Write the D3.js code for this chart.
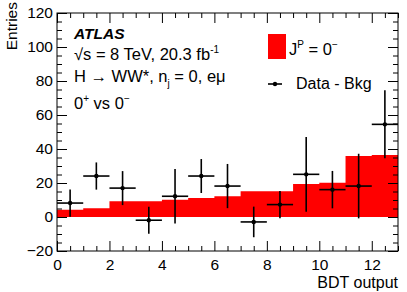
<!DOCTYPE html>
<html>
<head>
<meta charset="utf-8">
<script src="https://cdn.jsdelivr.net/npm/d3@7"></script>
<style>
  body { margin: 0; background: #fff; }
  svg text { font-family: "Liberation Sans", Arial, Helvetica, sans-serif; fill: #000; }
</style>
</head>
<body>
<svg id="chart"></svg>
<script>
// chart size, matches the window
const width = 407;
const height = 292;
const margin = { top: 13, right: 9, bottom: 41, left: 57 };

// BDT output bins (lower edges), each one unit wide
const bin_edges = [0, 1, 2, 3, 4, 5, 6, 7, 8, 9, 10, 11, 12, 13];
// J^P = 0^- expectation per bin
const signal = [4.3, 5.1, 9.2, 9.2, 10.2, 11.2, 12.2, 15.1, 15.1, 19.4, 20.2, 35.9, 36.5];
// data minus background, and its error
const data_minus_bkg = [8.2, 24.1, 17, -1.9, 12.2, 24.1, 18.2, -2.9, 7.3, 25.1, 16.1, 18.2, 54.5];
const data_err = [8, 8, 10, 8, 16, 10, 13, 9, 8, 22, 11, 19, 20];

const x_ticks = [0, 2, 4, 6, 8, 10, 12];
const y_ticks = [-20, 0, 20, 40, 60, 80, 100, 120];

const svg = d3.select('#chart')
  .attr('width', width)
  .attr('height', height);

const x = d3.scaleLinear().domain([0, 13]).range([margin.left, width - margin.right]);
const y = d3.scaleLinear().domain([-20, 120]).range([height - margin.bottom, margin.top]);

// red histogram, filled from zero
const hist = [];
signal.forEach((v, i) => {
  hist.push({ x: bin_edges[i], v });
  hist.push({ x: bin_edges[i + 1], v });
});
svg.append('path')
  .datum(hist)
  .attr('fill', '#ff0000')
  .attr('d', d3.area().x((d) => x(d.x)).y0(y(0)).y1((d) => y(d.v)));

// data points with error bars
const pts = data_minus_bkg.map((v, i) => ({ lo: bin_edges[i], hi: bin_edges[i + 1], v, e: data_err[i] }));
const g_pts = svg.append('g').attr('stroke', '#000').attr('stroke-width', 1.6);
g_pts.selectAll('.hbar')
  .data(pts)
  .enter().append('line')
    .attr('x1', (d) => x(d.lo))
    .attr('x2', (d) => x(d.hi))
    .attr('y1', (d) => y(d.v))
    .attr('y2', (d) => y(d.v));
g_pts.selectAll('.vbar')
  .data(pts)
  .enter().append('line')
    .attr('x1', (d) => x((d.lo + d.hi) / 2))
    .attr('x2', (d) => x((d.lo + d.hi) / 2))
    .attr('y1', (d) => y(d.v - d.e))
    .attr('y2', (d) => y(d.v + d.e));
svg.selectAll('.dot')
  .data(pts)
  .enter().append('circle')
    .attr('cx', (d) => x((d.lo + d.hi) / 2))
    .attr('cy', (d) => y(d.v))
    .attr('r', 2.2)
    .attr('fill', '#000');

// axes, ROOT style: ticks inside on all four sides
const fmt = (d) => (d < 0 ? '\u2212' + Math.abs(d) : String(d));
const minor_x = d3.range(0, 13.01, 0.5).filter((d) => d % 2 !== 0);
const minor_y = d3.range(-20, 120.01, 5).filter((d) => d % 20 !== 0);

svg.append('g')
  .attr('transform', `translate(0,${y(-20)})`)
  .call(d3.axisBottom(x).tickValues(x_ticks).tickSize(-10).tickPadding(8).tickFormat(fmt))
  .call((g) => g.select('.domain').remove());
svg.append('g')
  .attr('transform', `translate(0,${y(-20)})`)
  .call(d3.axisBottom(x).tickValues(minor_x).tickSize(-5).tickFormat(''))
  .call((g) => g.select('.domain').remove());
svg.append('g')
  .attr('transform', `translate(0,${y(120)})`)
  .call(d3.axisTop(x).tickValues(x_ticks).tickSize(-10).tickFormat(''))
  .call((g) => g.select('.domain').remove());
svg.append('g')
  .attr('transform', `translate(0,${y(120)})`)
  .call(d3.axisTop(x).tickValues(minor_x).tickSize(-5).tickFormat(''))
  .call((g) => g.select('.domain').remove());

svg.append('g')
  .attr('transform', `translate(${x(0)},0)`)
  .call(d3.axisLeft(y).tickValues(y_ticks).tickSize(-10).tickPadding(4).tickFormat(fmt))
  .call((g) => g.select('.domain').remove());
svg.append('g')
  .attr('transform', `translate(${x(0)},0)`)
  .call(d3.axisLeft(y).tickValues(minor_y).tickSize(-5).tickFormat(''))
  .call((g) => g.select('.domain').remove());
svg.append('g')
  .attr('transform', `translate(${x(13)},0)`)
  .call(d3.axisRight(y).tickValues(y_ticks).tickSize(-10).tickFormat(''))
  .call((g) => g.select('.domain').remove());
svg.append('g')
  .attr('transform', `translate(${x(13)},0)`)
  .call(d3.axisRight(y).tickValues(minor_y).tickSize(-5).tickFormat(''))
  .call((g) => g.select('.domain').remove());

svg.selectAll('.tick text').attr('font-size', 15.5).attr('fill', '#000');
svg.selectAll('.tick line').attr('stroke', '#000');

// frame
svg.append('rect')
  .attr('x', x(0))
  .attr('y', y(120))
  .attr('width', x(13) - x(0))
  .attr('height', y(-20) - y(120))
  .attr('fill', 'none')
  .attr('stroke', '#000')
  .attr('stroke-width', 1);

// axis titles
svg.append('text')
  .attr('transform', `translate(17,${y(120) - 11}) rotate(-90)`)
  .attr('text-anchor', 'end')
  .attr('font-size', 15.5)
  .text('Entries');
svg.append('text')
  .attr('x', x(13))
  .attr('y', 288)
  .attr('text-anchor', 'end')
  .attr('font-size', 16)
  .text('BDT output');

// labels
const lab_x = 74;
svg.append('text')
  .attr('x', lab_x).attr('y', 39)
  .attr('font-size', 15.5)
  .attr('font-weight', 'bold')
  .attr('font-style', 'italic')
  .text('ATLAS');

const l2 = svg.append('text').attr('x', lab_x).attr('y', 60).attr('font-size', 16.5);
l2.append('tspan').text('\u221As = 8 TeV, 20.3 fb');
l2.append('tspan').attr('font-size', 10).attr('dy', -7).text('-1');

const l3 = svg.append('text').attr('x', lab_x).attr('y', 82).attr('font-size', 16.5);
l3.append('tspan').text('H \u2192 WW*, n');
l3.append('tspan').attr('font-size', 10).attr('dy', 5).text('j');
l3.append('tspan').attr('dy', -5).text(' = 0, e\u03BC');

const l4 = svg.append('text').attr('x', lab_x).attr('y', 109).attr('font-size', 16.5);
l4.append('tspan').text('0');
l4.append('tspan').attr('font-size', 10).attr('dy', -7).text('+');
l4.append('tspan').attr('dy', 7).text(' vs 0');
l4.append('tspan').attr('font-size', 10).attr('dy', -7).text('\u2212');

// legend
svg.append('rect')
  .attr('x', 268).attr('y', 34)
  .attr('width', 18).attr('height', 25)
  .attr('fill', '#ff0000');
const lg1 = svg.append('text').attr('x', 289).attr('y', 55).attr('font-size', 16.5);
lg1.append('tspan').text('J');
lg1.append('tspan').attr('font-size', 10).attr('dy', -7).text('P');
lg1.append('tspan').attr('dy', 7).text(' = 0');
lg1.append('tspan').attr('font-size', 10).attr('dy', -7).text('\u2212');

svg.append('line')
  .attr('x1', 268).attr('x2', 282)
  .attr('y1', 84).attr('y2', 84)
  .attr('stroke', '#000').attr('stroke-width', 1.6);
svg.append('circle')
  .attr('cx', 275).attr('cy', 84).attr('r', 2.2).attr('fill', '#000');
svg.append('text')
  .attr('x', 296).attr('y', 89)
  .attr('font-size', 16)
  .text('Data - Bkg');
</script>
</body>
</html>
